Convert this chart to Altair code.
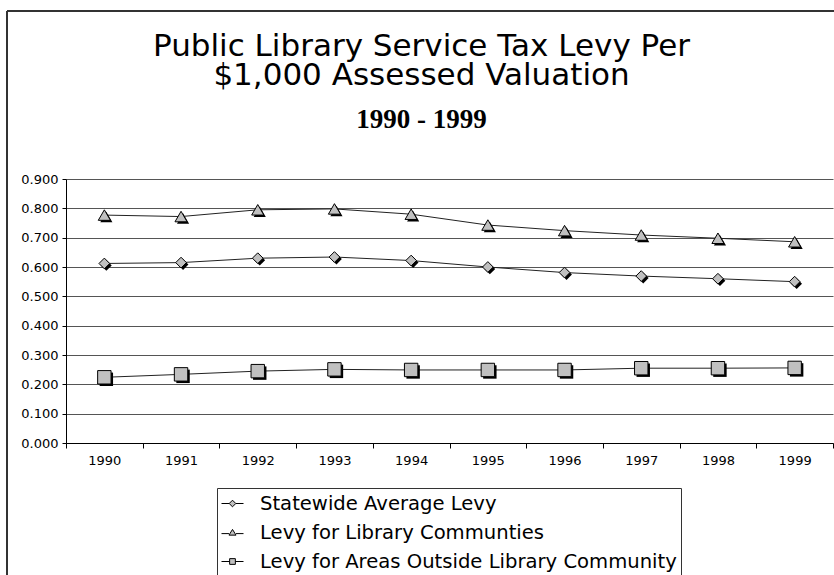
import altair as alt
import pandas as pd

YEARS = ["1990", "1991", "1992", "1993", "1994", "1995", "1996", "1997", "1998", "1999"]
SERIES = ["Statewide Average Levy", "Levy for Library Communties", "Levy for Areas Outside Library Community"]
STATEWIDE = [0.612, 0.615, 0.630, 0.634, 0.622, 0.600, 0.581, 0.569, 0.560, 0.550]
LIBRARY = [0.777, 0.772, 0.795, 0.798, 0.780, 0.743, 0.724, 0.709, 0.698, 0.686]
OUTSIDE = [0.224, 0.234, 0.245, 0.251, 0.249, 0.249, 0.249, 0.255, 0.255, 0.256]
Y_TICKS = [0.0, 0.1, 0.2, 0.3, 0.4, 0.5, 0.6, 0.7, 0.8, 0.9]

rows = []
for name, vals in zip(SERIES, [STATEWIDE, LIBRARY, OUTSIDE]):
    for yr, v in zip(YEARS, vals):
        rows.append({"year": yr, "series": name, "value": v})
df = pd.DataFrame(rows)
legend_df = pd.DataFrame({"series": SERIES})

FONT = "DejaVu Sans"

x_enc = alt.X("year:O", sort=YEARS, bandPosition=0.5,
              scale=alt.Scale(type="band", paddingInner=0, paddingOuter=0),
              axis=alt.Axis(title=None, labelAngle=0, tickBand="extent", tickSize=5,
                            tickColor="black", domainColor="black", labelFontSize=13,
                            labelFont=FONT, labelColor="black", labelPadding=6, grid=False))
y_enc = alt.Y("value:Q", scale=alt.Scale(domain=[0, 0.9], nice=False),
              axis=alt.Axis(title=None, values=Y_TICKS, format=".3f", tickSize=4,
                            tickColor="black", domainColor="black", labelFontSize=13,
                            labelFont=FONT, labelColor="black", labelPadding=4,
                            grid=True, gridColor="#555", gridWidth=1))

shape_scale = alt.Scale(domain=SERIES, range=["diamond", "triangle-up", "square"])
size_scale = alt.Scale(domain=SERIES, range=[115, 180, 115])

lines = alt.Chart(df).mark_line(color="#222", strokeWidth=1).encode(
    x=x_enc, y=y_enc, detail="series:N")

shadow = alt.Chart(df).mark_point(filled=True, color="black", opacity=1, xOffset=2, yOffset=2).encode(
    x=x_enc, y=y_enc,
    shape=alt.Shape("series:N", scale=shape_scale, legend=None),
    size=alt.Size("series:N", scale=size_scale, legend=None))

pts = alt.Chart(df).mark_point(filled=True, fill="#c0c0c0", stroke="black", strokeWidth=1, opacity=1).encode(
    x=x_enc, y=y_enc,
    shape=alt.Shape("series:N", scale=shape_scale, legend=None),
    size=alt.Size("series:N", scale=size_scale, legend=None))

legend_paths = [
    "M-1,0H-0.3M0.3,0H1M0,-0.3L0.3,0L0,0.3L-0.3,0Z",
    "M-1,0.1H-0.32M0.32,0.1H1M0,-0.28L0.32,0.24L-0.32,0.24Z",
    "M-1,0H-0.26M0.26,0H1M-0.26,-0.26H0.26V0.26H-0.26Z",
]

leg = alt.Legend(title=None, orient="none", legendX=151, legendY=309,
                 strokeColor="#333", fillColor="white", padding=4,
                 rowPadding=7, symbolSize=484, symbolStrokeWidth=1,
                 symbolOffset=0, labelOffset=16, labelFont=FONT,
                 labelFontSize=19.6, labelColor="black", labelLimit=600,
                 cornerRadius=0)

legend_layer = alt.Chart(legend_df).mark_point(opacity=1, strokeWidth=1).encode(
    x=alt.value(0), y=alt.value(0),
    shape=alt.Shape("series:N", scale=alt.Scale(domain=SERIES, range=legend_paths), legend=leg),
    stroke=alt.Stroke("series:N", scale=alt.Scale(domain=SERIES, range=["black", "black", "black"]), legend=leg),
    fill=alt.Fill("series:N", scale=alt.Scale(domain=SERIES, range=["#c0c0c0", "#c0c0c0", "#c0c0c0"]), legend=leg),
).transform_filter("false")

frame_top = alt.Chart(legend_df).mark_rule(color="#333", strokeWidth=2).encode(
    x=alt.value(-59), x2=alt.value(770), y=alt.value(-168))
frame_left = alt.Chart(legend_df).mark_rule(color="#333", strokeWidth=2).encode(
    x=alt.value(-59), y=alt.value(-168), y2=alt.value(400))

chart = alt.layer(frame_top, frame_left, lines, shadow, pts, legend_layer).resolve_scale(
    shape="independent", size="independent", stroke="independent", fill="independent"
).properties(
    width=767, height=264,
    autosize=alt.AutoSizeParams(type="none"),
    padding={"left": 66, "top": 179, "right": 1, "bottom": 132},
    title=alt.TitleParams(
        text=["Public Library Service Tax Levy Per", "$1,000 Assessed Valuation"],
        subtitle="1990 - 1999",
        anchor="middle", dx=-28, offset=-124,
        font=FONT, fontSize=31, fontWeight="normal", lineHeight=29, color="black",
        subtitleFont="Liberation Serif", subtitleFontSize=27, subtitleFontWeight="bold",
        subtitleColor="black", subtitlePadding=15),
).configure_view(stroke=None)

chart.save("out.html", embed_options={"renderer": "svg", "actions": False})
